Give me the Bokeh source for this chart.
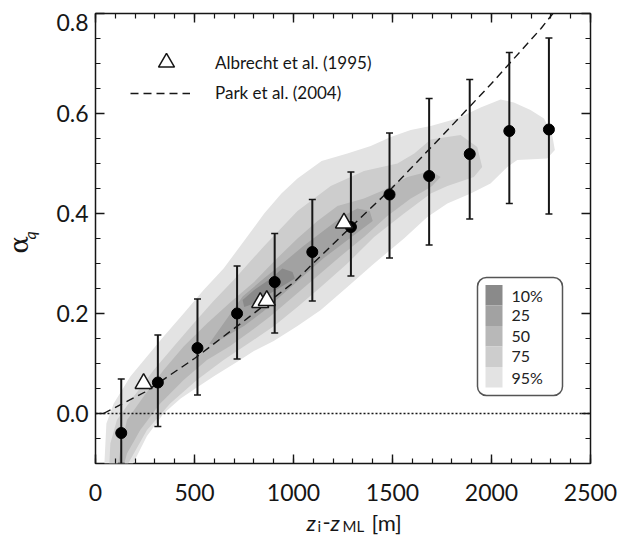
import math
from bokeh.plotting import figure
from bokeh.layouts import row, column
from bokeh.models import (Range1d, LinearAxis, FixedTicker, Span, Label, Legend,
                          LegendItem, BoxAnnotation, PrintfTickFormatter)
from bokeh.embed import file_html
from bokeh.resources import INLINE

# ---------------- data ----------------
bin_x = [130, 315, 515, 715, 905, 1095, 1290, 1485, 1685, 1890, 2090, 2290]
alpha_mean = [-0.039, 0.062, 0.131, 0.200, 0.263, 0.323, 0.373, 0.438, 0.475, 0.519, 0.565, 0.568]
err_hi = [0.069, 0.157, 0.229, 0.295, 0.360, 0.428, 0.483, 0.561, 0.630, 0.668, 0.722, 0.751]
err_lo = [-0.100, -0.026, 0.037, 0.109, 0.161, 0.225, 0.275, 0.311, 0.337, 0.389, 0.420, 0.399]

albrecht_x = [243, 832, 865, 1255]
albrecht_y = [0.060, 0.222, 0.226, 0.381]

park_x = [40, 250, 500, 750, 1000, 1250, 1500, 1750, 2000, 2250, 2310]
park_y = [0.0, 0.043, 0.110, 0.185, 0.262, 0.358, 0.452, 0.555, 0.660, 0.770, 0.800]

c95_x = [45, 55, 92, 176, 260, 344, 445, 546, 647, 750, 852, 939, 1020, 1142, 1272, 1390, 1491, 1592,
         1693, 1827, 1945, 2046, 2113, 2197, 2265, 2305, 2320,
         2281, 2130, 2080, 1995, 1895, 1777, 1676, 1558, 1407, 1272, 1138, 1020, 900, 800, 714, 600,
         512, 430, 344, 260, 190]
c95_y = [-0.10, -0.02, 0.02, 0.074, 0.114, 0.154, 0.200, 0.247, 0.290, 0.345, 0.400, 0.440, 0.470,
         0.505, 0.520, 0.535, 0.553, 0.567, 0.575, 0.590, 0.612, 0.628, 0.622, 0.607, 0.590, 0.560, 0.527,
         0.510, 0.507, 0.493, 0.460, 0.440, 0.420, 0.393, 0.350, 0.300, 0.253, 0.207, 0.175, 0.145, 0.125,
         0.103, 0.075, 0.052, 0.030, 0.0, -0.045, -0.10]

c75_x = [70, 75, 108, 193, 294, 395, 495, 596, 700, 852, 1020, 1188, 1356, 1525, 1610, 1693, 1844, 1928, 1953,
         1911, 1777, 1693, 1558, 1407, 1272, 1138, 1020, 902, 798, 647, 512, 377, 260, 165]
c75_y = [-0.10, -0.06, -0.013, 0.034, 0.087, 0.134, 0.180, 0.225, 0.268, 0.335, 0.405, 0.455, 0.485, 0.500,
         0.520, 0.548, 0.557, 0.533, 0.493,
         0.473, 0.455, 0.440, 0.400, 0.353, 0.300, 0.253, 0.213, 0.175, 0.147, 0.107, 0.067, 0.020, -0.033, -0.10]

c50_x = [115, 125, 159, 243, 344, 445, 563, 680, 798, 916, 1020, 1121, 1222, 1356, 1457, 1575, 1693, 1743,
         1700, 1659, 1592, 1474, 1356, 1239, 1121, 1003, 885, 785, 680, 563, 445, 327, 226, 159, 145]
c50_y = [-0.10, -0.073, -0.013, 0.034, 0.087, 0.134, 0.180, 0.222, 0.262, 0.310, 0.350, 0.385, 0.415, 0.430,
         0.447, 0.473, 0.485, 0.473,
         0.455, 0.445, 0.430, 0.395, 0.353, 0.315, 0.275, 0.235, 0.195, 0.165, 0.135, 0.107, 0.067, 0.020,
         -0.033, -0.080, -0.10]

c25_x = [575, 650, 743, 850, 950, 1050, 1150, 1250, 1323, 1385, 1400,
         1350, 1250, 1150, 1050, 950, 850, 750, 650, 590]
c25_y = [0.140, 0.182, 0.234, 0.270, 0.302, 0.335, 0.365, 0.395, 0.410, 0.405, 0.385,
         0.370, 0.340, 0.310, 0.275, 0.240, 0.205, 0.175, 0.152, 0.138]

c10_x = [743, 801, 885, 944, 995, 1007, 953, 869, 801, 751]
c10_y = [0.227, 0.247, 0.270, 0.290, 0.283, 0.270, 0.257, 0.237, 0.220, 0.213]

level_labels = ["10%", "25", "50", "75", "95%"]
level_colors = ["#8a8a8a", "#a2a2a2", "#b8b8b8", "#cdcdcd", "#e3e3e3"]

x_major = [0, 500, 1000, 1500, 2000, 2500]
x_minor = list(range(0, 2501, 100))
y_major = [0.0, 0.2, 0.4, 0.6, 0.8]
y_label_pos = [0.0, 0.2, 0.4, 0.6, 0.783]   # top label sits just under the frame edge
y_minor = [round(-0.1 + 0.05 * i, 2) for i in range(19)]

# ---------------- layout (page pixels; the page has no margin) ----------------
YL_W = 48              # strip holding the y title
MAIN_W, MAIN_H = 581, 505
XL_H = 538 - MAIN_H    # strip holding the x title
ML, MR, MT, MB = 47, 39, 13, 42
FL = YL_W + ML         # frame left on page
FT = MT                # frame top on page
FB = MAIN_H - MB       # frame bottom on page

FONT = "Lato"
INK = "#161616"

p = figure(width=MAIN_W, height=MAIN_H, output_backend="svg", toolbar_location=None,
           x_range=Range1d(0, 2500), y_range=Range1d(-0.1, 0.8),
           x_axis_type=None, y_axis_type=None,
           min_border_left=ML, min_border_right=MR, min_border_top=MT, min_border_bottom=MB)
p.outline_line_color = INK
p.outline_line_width = 1.5
p.background_fill_color = "white"
p.border_fill_color = "white"


def make_axis(major, minor, show_labels, draw_ticks=True):
    ax = LinearAxis(ticker=FixedTicker(ticks=major, minor_ticks=minor))
    ax.axis_line_color = None
    ax.major_tick_in = 9
    ax.major_tick_out = 0
    ax.minor_tick_in = 5
    ax.minor_tick_out = 0
    ax.major_tick_line_color = INK if draw_ticks else None
    ax.minor_tick_line_color = INK if draw_ticks else None
    ax.major_tick_line_width = 1.4
    ax.minor_tick_line_width = 1.2
    if show_labels:
        ax.major_label_text_font = FONT
        ax.major_label_text_font_size = "23px"
        ax.major_label_text_color = INK
    else:
        ax.major_label_text_font_size = "1px"
        ax.major_label_text_color = None
        ax.major_label_standoff = 0
    return ax


xb = make_axis(x_major, x_minor, True)
xb.major_label_standoff = 20
p.add_layout(xb, "below")
p.add_layout(make_axis(x_major, x_minor, False), "above")

# left: ticks next to the frame, labels on a second, tick-less axis
p.add_layout(make_axis(y_major, y_minor, False), "left")
yl = make_axis(y_label_pos, [], True, draw_ticks=False)
yl.formatter = PrintfTickFormatter(format="%.1f")
yl.major_label_standoff = 7
p.add_layout(yl, "left")
p.add_layout(make_axis(y_major, y_minor, False), "right")

# ---------------- contours ----------------
p.patches(xs=[c95_x, c75_x, c50_x, c25_x, c10_x], ys=[c95_y, c75_y, c50_y, c25_y, c10_y],
          fill_color=list(reversed(level_colors)), line_color=None)

p.add_layout(Span(location=0, dimension="width", line_color=INK, line_width=1.6, line_dash="2 2"))

park = p.line(park_x, park_y, line_color=INK, line_width=1.4, line_dash="8 5")

p.segment(x0=bin_x, y0=err_lo, x1=bin_x, y1=err_hi, line_color=INK, line_width=2)
p.scatter(bin_x, err_hi, marker="dash", size=7, line_color=INK, line_width=1.6)
p.scatter(bin_x, err_lo, marker="dash", size=7, line_color=INK, line_width=1.6)
p.scatter(bin_x, alpha_mean, size=11, fill_color="black", line_color="black")

tri = p.scatter(albrecht_x, albrecht_y, marker="triangle", size=17, fill_color="white",
                line_color=INK, line_width=1.5)

# ---------------- legends ----------------
def legend_style(lg):
    lg.background_fill_alpha = 0
    lg.border_line_color = None
    lg.padding = 0
    lg.margin = 0
    lg.label_text_font = FONT
    lg.label_text_font_size = "17px"
    lg.label_text_color = INK
    return lg


p.add_layout(legend_style(Legend(items=[LegendItem(label="Albrecht et al. (1995)", renderers=[tri])],
                                 location=(140 - FL, FB - 82), glyph_width=52, glyph_height=40,
                                 label_height=40, label_standoff=23)))
p.add_layout(legend_style(Legend(items=[LegendItem(label="Park et al. (2004)", renderers=[park])],
                                 location=(130 - FL, FB - 103), glyph_width=60, glyph_height=20,
                                 label_height=20, label_standoff=25)))

# contour-level key (rounded box with swatches)
box = BoxAnnotation(left=477 - FL, right=562 - FL, top=FB - 277, bottom=FB - 395,
                    left_units="screen", right_units="screen", top_units="screen", bottom_units="screen",
                    fill_color="white", fill_alpha=1.0, line_color="#555555", line_alpha=1.0,
                    line_width=1.5)
try:
    box.border_radius = 9
except Exception:
    pass
p.add_layout(box)
sw_top = 284.5
sw_h = 20.5
for k, (lab, col) in enumerate(zip(level_labels, level_colors)):
    t = sw_top + k * sw_h
    p.add_layout(BoxAnnotation(left=485 - FL, right=502 - FL, top=FB - t, bottom=FB - (t + sw_h),
                               left_units="screen", right_units="screen", top_units="screen",
                               bottom_units="screen", fill_color=col, fill_alpha=1.0, line_color=None))
    p.add_layout(Label(x=511 - FL, y=FB - (t + sw_h / 2), x_units="screen", y_units="screen", text=lab,
                       text_baseline="middle", text_align="left", text_font=FONT,
                       text_font_size="16px", text_color="#222222"))


# ---------------- axis titles (own strips, so nothing is clipped) ----------------
def strip(w, h):
    f = figure(width=w, height=h, output_backend="svg", toolbar_location=None,
               x_range=Range1d(0, 1), y_range=Range1d(0, 1), x_axis_type=None, y_axis_type=None,
               min_border=0, min_border_left=0, min_border_right=0, min_border_top=0,
               min_border_bottom=0)
    f.outline_line_color = None
    f.background_fill_color = "white"
    f.border_fill_color = "white"
    return f


def tlabel(fig, x, y, text, size, style="normal", font=FONT, angle=0.0):
    fig.add_layout(Label(x=x, y=y, x_units="screen", y_units="screen", text=text,
                         text_align="left", text_baseline="alphabetic", text_font=font,
                         text_font_size=size, text_font_style=style, text_color=INK, angle=angle))


ylab = strip(YL_W, MAIN_H)
tlabel(ylab, 18, MAIN_H - 253, "α", "26px", "normal", "DejaVu Serif", math.pi / 2)
tlabel(ylab, 29, MAIN_H - 239, "q", "16px", "italic", FONT, math.pi / 2)

xlab = strip(MAIN_W, XL_H)
XSHIFT = -33           # corrections measured from the previous renderings
base = 522
for px, dy, txt, size, style in [(292, 0, "z", "22px", "italic"),
                                 (303, 3, "i", "15px", "normal"),
                                 (308, 0, "-", "22px", "normal"),
                                 (316, 0, "z", "22px", "italic"),
                                 (328, 3, "ML", "15px", "normal"),
                                 (357, 0, "[m]", "22px", "normal")]:
    tlabel(xlab, px - YL_W + XSHIFT, 538 - (base + dy), txt, size, style)

layout = row(ylab, column(p, xlab, spacing=0), spacing=0)
open("out.html", "w").write(file_html(layout, INLINE))
